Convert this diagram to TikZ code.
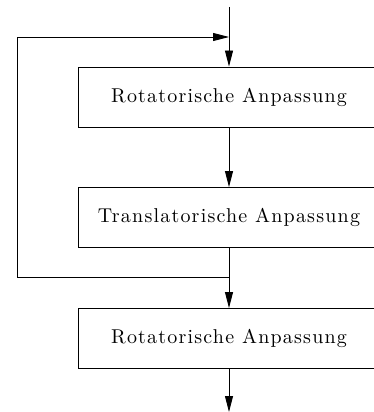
\documentclass[tikz,border=0pt]{standalone}
\usepackage{fontspec}
\newfontfamily\stagefont{lmroman10-regular.otf}[LetterSpace=6]
\usetikzlibrary{arrows.meta}
\begin{document}
\begin{tikzpicture}[x=1pt,y=-1pt,
  stage/.style={draw,line width=0.9pt,minimum width=302pt,minimum height=60pt,inner sep=0pt,
    font=\stagefont\fontsize{20}{24}\selectfont},
  flow/.style={line width=0.9pt},
  arr/.style={flow,-{Triangle[length=16pt,width=8pt]}}]
\clip (0,0) rectangle (374,412);
\node[stage] (b1) at (229,97) {Rotatorische Anpassung};
\node[stage] (b2) at (229,217.5) {Translatorische Anpassung};
\node[stage] (b3) at (229,338.5) {Rotatorische Anpassung};
\coordinate (top) at (229,7);
\coordinate (join) at (229,37);
\coordinate (split) at (229,277);
\coordinate (ll) at (17,277);
\coordinate (ul) at (17,37);
\coordinate (end) at (229,412);
\draw[arr] (top) -- (b1.north);
\draw[arr] (b1.south) -- (b2.north);
\draw[flow] (b2.south) -- (split);
\draw[arr] (split) -- (b3.north);
\draw[arr] (split) -- (ll) -- (ul) -- (join);
\draw[arr] (b3.south) -- (end);
\end{tikzpicture}
\end{document}
